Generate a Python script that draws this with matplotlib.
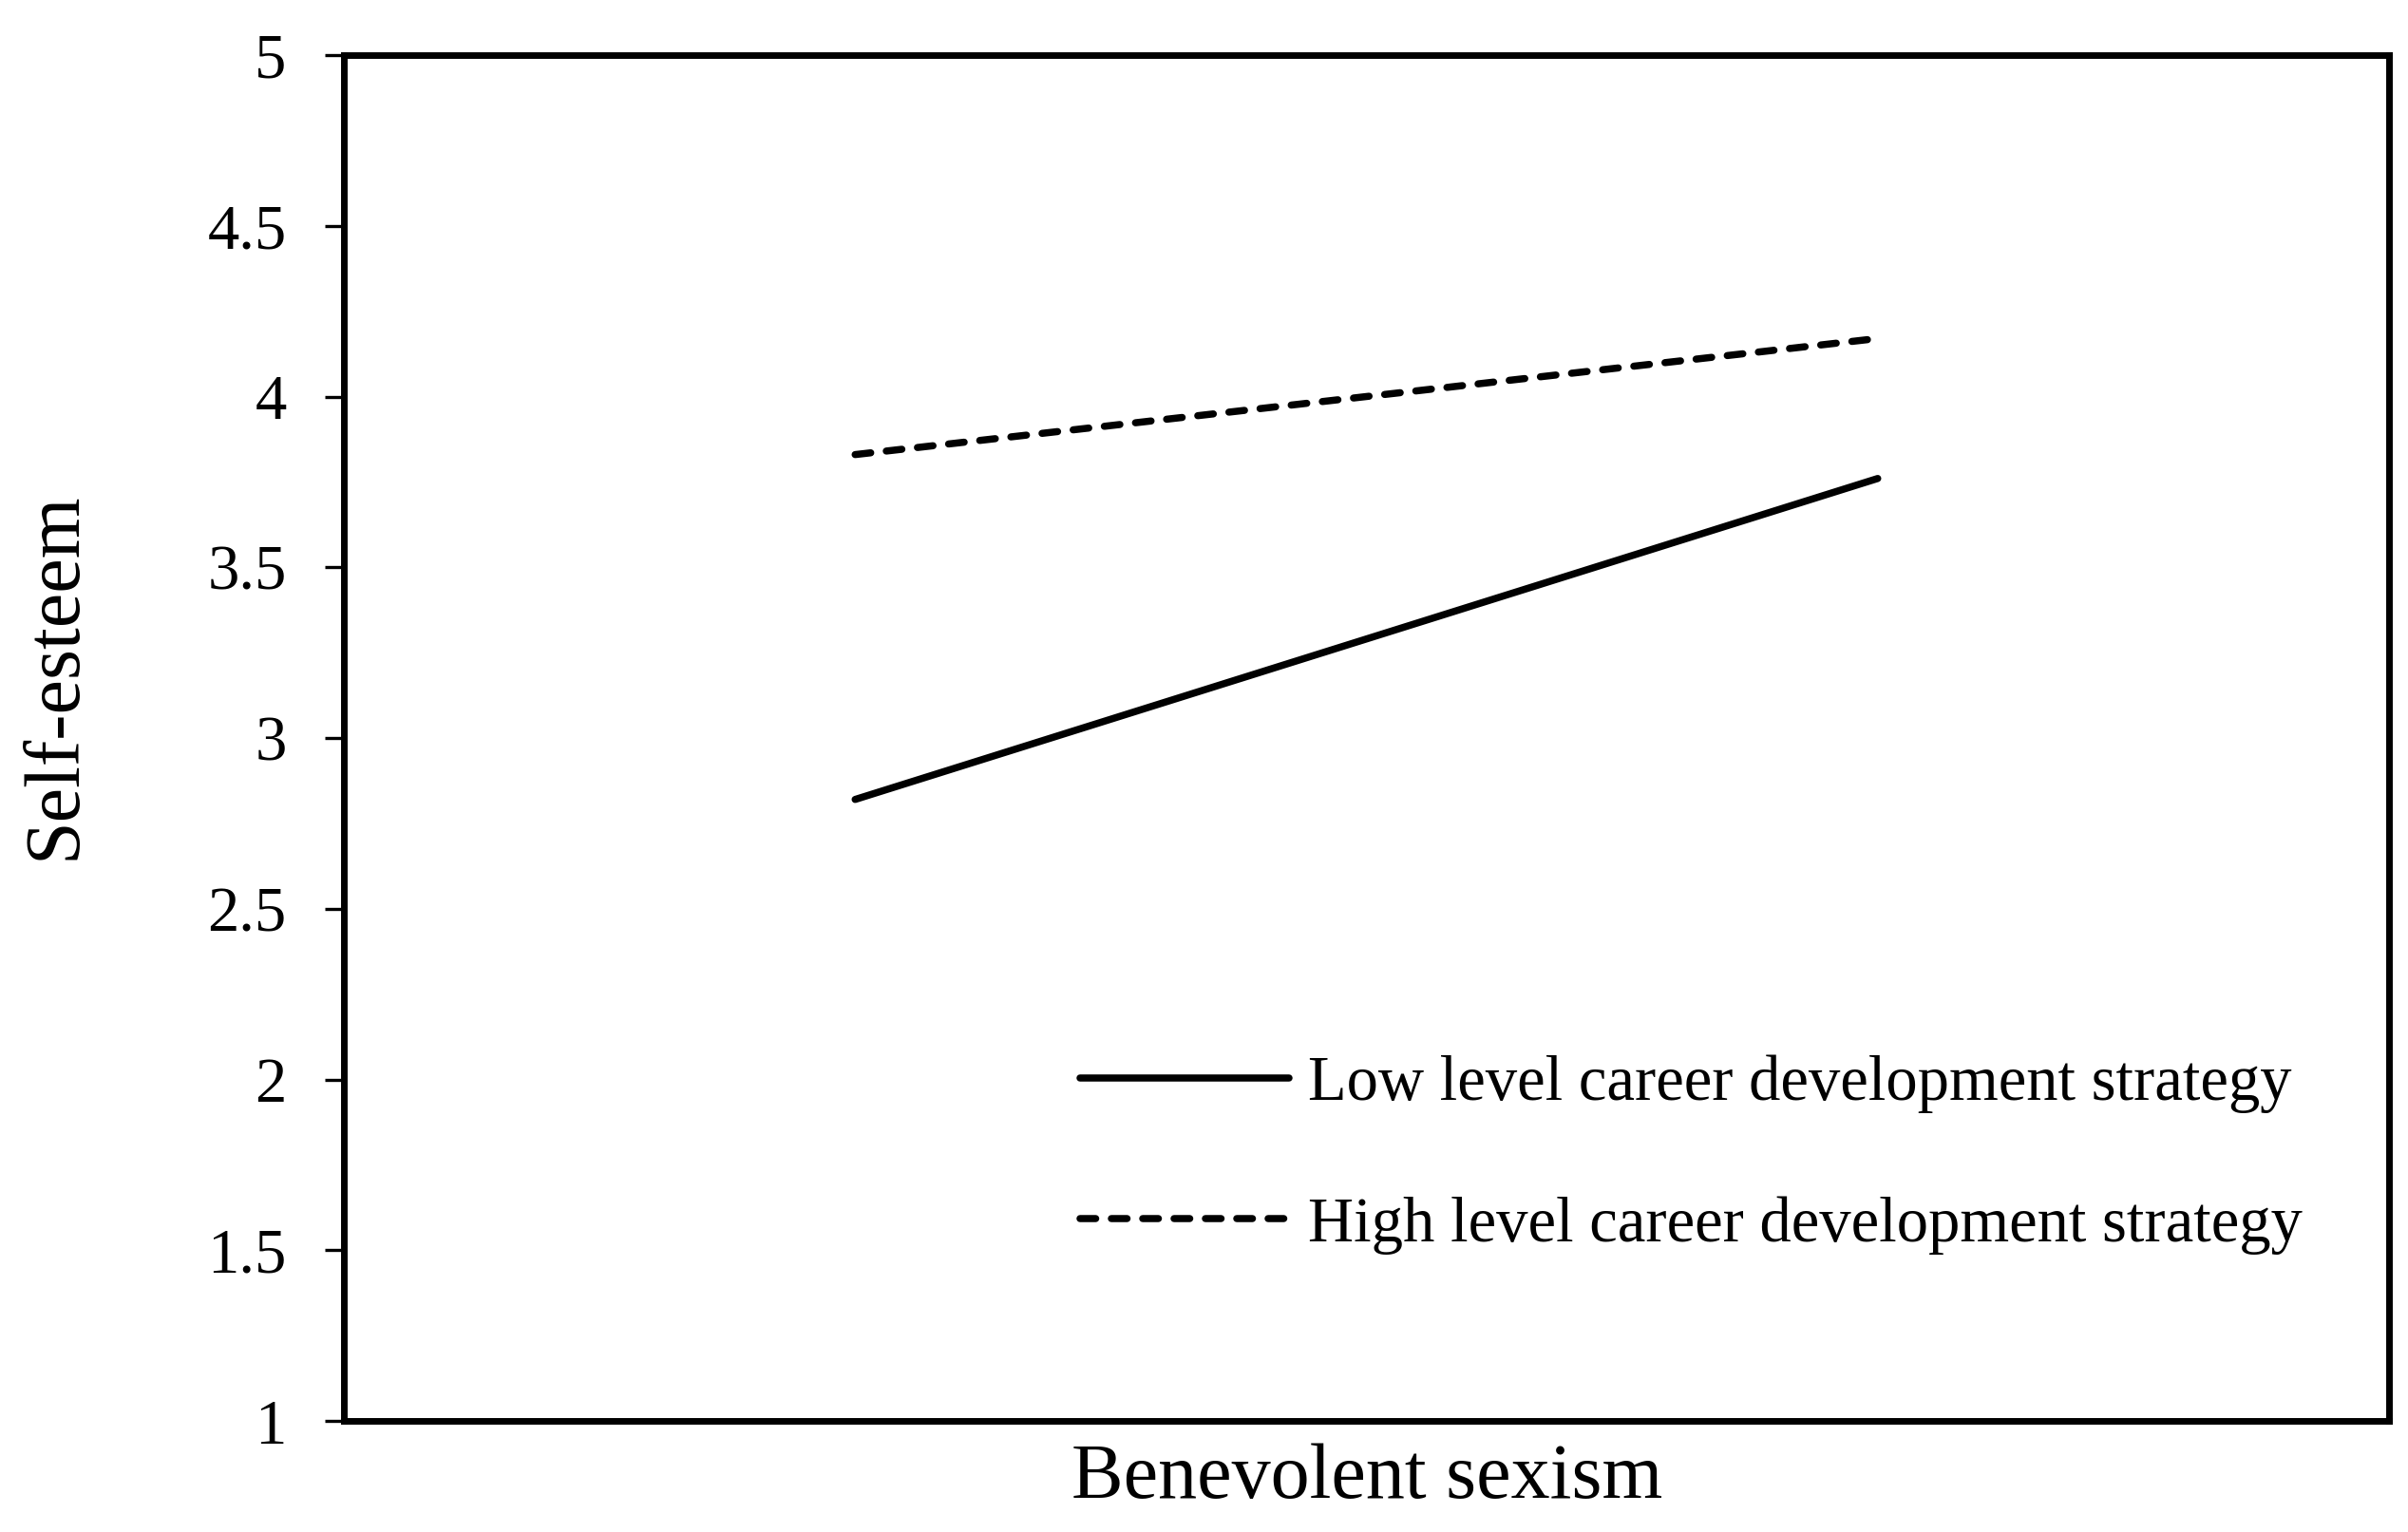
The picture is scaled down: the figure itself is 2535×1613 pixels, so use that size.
import matplotlib
matplotlib.use("Agg")
import matplotlib.pyplot as plt

# Data
x_levels = [1, 3]          # low / high benevolent sexism (arbitrary positions)
low_strategy = [2.82, 3.76]
high_strategy = [3.83, 4.17]
series_labels = ["Low level career development strategy",
                 "High level career development strategy"]
y_ticks = [1, 1.5, 2, 2.5, 3, 3.5, 4, 4.5, 5]
y_ticklabels = ["1", "1.5", "2", "2.5", "3", "3.5", "4", "4.5", "5"]
x_label = "Benevolent sexism"
y_label = "Self-esteem"

plt.rcParams['font.family'] = ['Liberation Serif', 'DejaVu Serif']

W, H = 2535, 1613
fig = plt.figure(figsize=(W / 100, H / 100), dpi=100)
ax = fig.add_axes([362 / W, 1 - 1496 / H, (2515 - 362) / W, (1496 - 58) / H])

lw = 5.4
ax.plot(x_levels, low_strategy, color='black', lw=lw, solid_capstyle='round',
        label=series_labels[0])
ax.plot(x_levels, high_strategy, color='black', lw=lw, dashes=(2.2, 2.2),
        dash_capstyle='round', label=series_labels[1])

ax.set_xlim(0, 4)
ax.set_ylim(1, 5)
ax.set_xticks([])
ax.set_yticks(y_ticks)
ax.set_yticklabels(y_ticklabels, fontsize=48)
ax.tick_params(axis='y', length=14.4, width=2.4, pad=29, direction='out')
for s in ax.spines.values():
    s.set_linewidth(5)
    s.set_color('black')

leg = ax.legend(loc='upper left', bbox_to_anchor=((1137 - 362) / (2515 - 362), 1 - (1111 - 58) / (1496 - 58)),
                frameon=False, fontsize=48, handlelength=3.3, handletextpad=0.3,
                labelspacing=1.3, borderpad=0, borderaxespad=0)

fig.text(59 / W, 1 - 711 / H, y_label, rotation=90, ha='center', va='center', fontsize=59)
fig.text(1439 / W, 1 - 1577 / H, x_label, ha='center', va='baseline', fontsize=59)

fig.savefig("out.png", dpi=100)
